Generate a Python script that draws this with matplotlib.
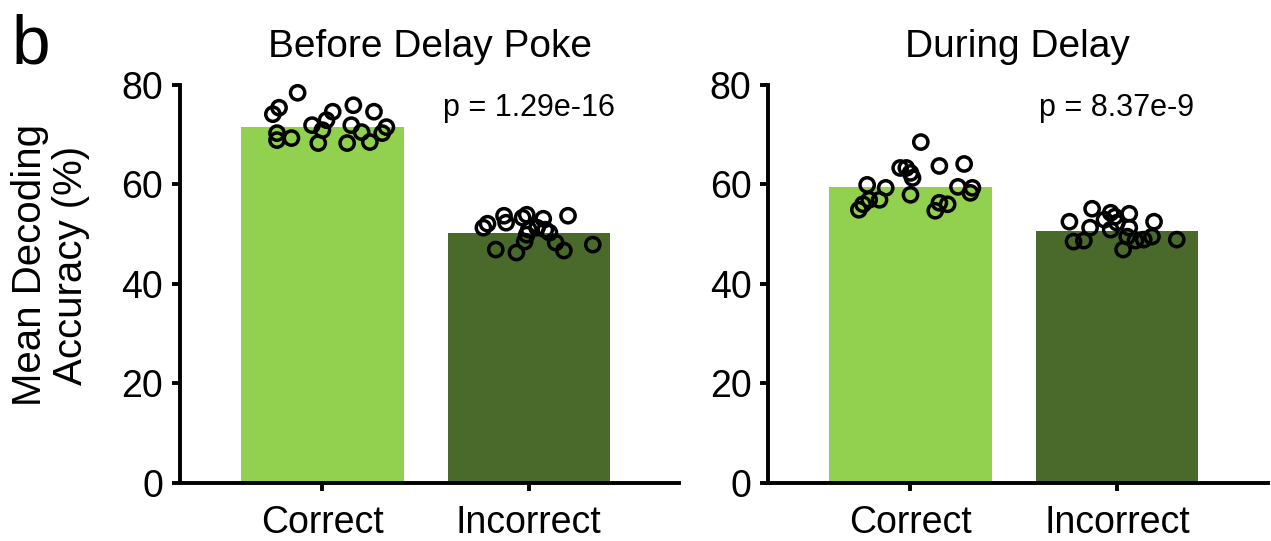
import numpy as np
import matplotlib
matplotlib.use('Agg')
import matplotlib.pyplot as plt

plt.rcParams['font.family'] = ['Liberation Sans', 'DejaVu Sans']

# Datos
categorias = ['Correct', 'Incorrect']
titulos = ['Before Delay Poke', 'During Delay']
p_valores = ['p = 1.29e-16', 'p = 8.37e-9']
medias_antes = [71.6, 50.3]
medias_durante = [59.4, 50.7]

# puntos individuales (valor y desplazamiento horizontal)
antes_correct = [78.4, 74.1, 75.4, 75.9, 74.6, 74.6, 72.9, 71.9, 70.9, 71.9,
                 70.5, 71.5, 70.3, 70.3, 68.9, 69.3, 68.3, 68.3, 68.5]
antes_correct_dx = [-0.12, -0.24, -0.21, 0.15, 0.25, 0.05, 0.02, -0.05, 0.00, 0.14,
                    0.19, 0.31, 0.29, -0.22, -0.22, -0.15, -0.02, 0.12, 0.23]
antes_incorrect = [51.3, 52.1, 53.7, 52.3, 53.3, 53.9, 53.1, 53.7, 51.3, 50.9,
                   50.9, 49.9, 48.5, 50.3, 48.3, 46.7, 46.9, 46.3, 47.9]
antes_incorrect_dx = [-0.22, -0.20, -0.12, -0.11, -0.03, -0.01, 0.07, 0.19, 0.04, 0.08,
                      0.00, -0.01, -0.02, 0.10, 0.13, 0.17, -0.16, -0.06, 0.31]
durante_correct = [68.5, 63.7, 64.1, 63.3, 63.3, 62.3, 61.3, 59.9, 59.3, 59.5,
                   59.3, 58.3, 56.9, 57.9, 56.9, 56.0, 54.9, 56.3, 56.0, 54.7]
durante_correct_dx = [0.05, 0.14, 0.26, -0.05, -0.02, 0.00, 0.01, -0.21, -0.12, 0.23,
                      0.30, 0.29, -0.15, 0.00, -0.20, -0.23, -0.25, 0.14, 0.18, 0.12]
durante_incorrect = [52.5, 55.1, 54.3, 53.5, 52.9, 54.1, 52.5, 52.3, 51.3, 50.9,
                     51.3, 48.5, 48.7, 49.5, 48.7, 48.9, 49.5, 46.9, 48.9]
durante_incorrect_dx = [-0.23, -0.12, -0.03, -0.01, -0.06, 0.06, 0.18, 0.00, -0.13, -0.03,
                        0.06, -0.21, -0.16, 0.05, 0.09, 0.13, 0.17, 0.03, 0.29]

colores = ['#92d050', '#4a6a2b']

fig = plt.figure(figsize=(12.71, 5.41), dpi=100)
ax1 = fig.add_axes([0.1416, 0.1072, 0.393, 0.736])
ax2 = fig.add_axes([0.6043, 0.1072, 0.393, 0.736])

paneles = [
    (ax1, medias_antes, [(antes_correct, antes_correct_dx), (antes_incorrect, antes_incorrect_dx)]),
    (ax2, medias_durante, [(durante_correct, durante_correct_dx), (durante_incorrect, durante_incorrect_dx)]),
]

for i, (ax, medias, puntos) in enumerate(paneles):
    x = np.arange(len(categorias))
    ax.bar(x, medias, width=0.786, color=colores, zorder=1)
    for j, (vals, dx) in enumerate(puntos):
        ax.scatter(j + np.array(dx), vals, s=105, facecolors='none',
                   edgecolors='black', linewidths=2.5, zorder=3, clip_on=False)
    ax.set_xlim(-0.69, 1.73)
    ax.set_ylim(0, 80)
    ax.set_yticks([0, 20, 40, 60, 80])
    ax.set_xticks(x)
    ax.set_xticklabels(categorias)
    for lado in ['top', 'right']:
        ax.spines[lado].set_visible(False)
    for lado in ['left', 'bottom']:
        ax.spines[lado].set_linewidth(2.8)
    ax.tick_params(axis='both', width=2.8, length=6, labelsize=27)
    ax.tick_params(axis='y', pad=6)
    ax.tick_params(axis='x', pad=10)
    ax.set_title(titulos[i], fontsize=28, pad=20)
    ax.text(1.0, 75.4, p_valores[i], ha='center', va='center', fontsize=22)

fig.text(0.04, 0.51, 'Mean Decoding\nAccuracy (%)', rotation=90, ha='center',
         va='center', fontsize=29, multialignment='center', linespacing=1.1)
fig.text(0.0095, 0.882, 'b', fontsize=50, va='baseline')

plt.savefig('out.png', dpi=100)
